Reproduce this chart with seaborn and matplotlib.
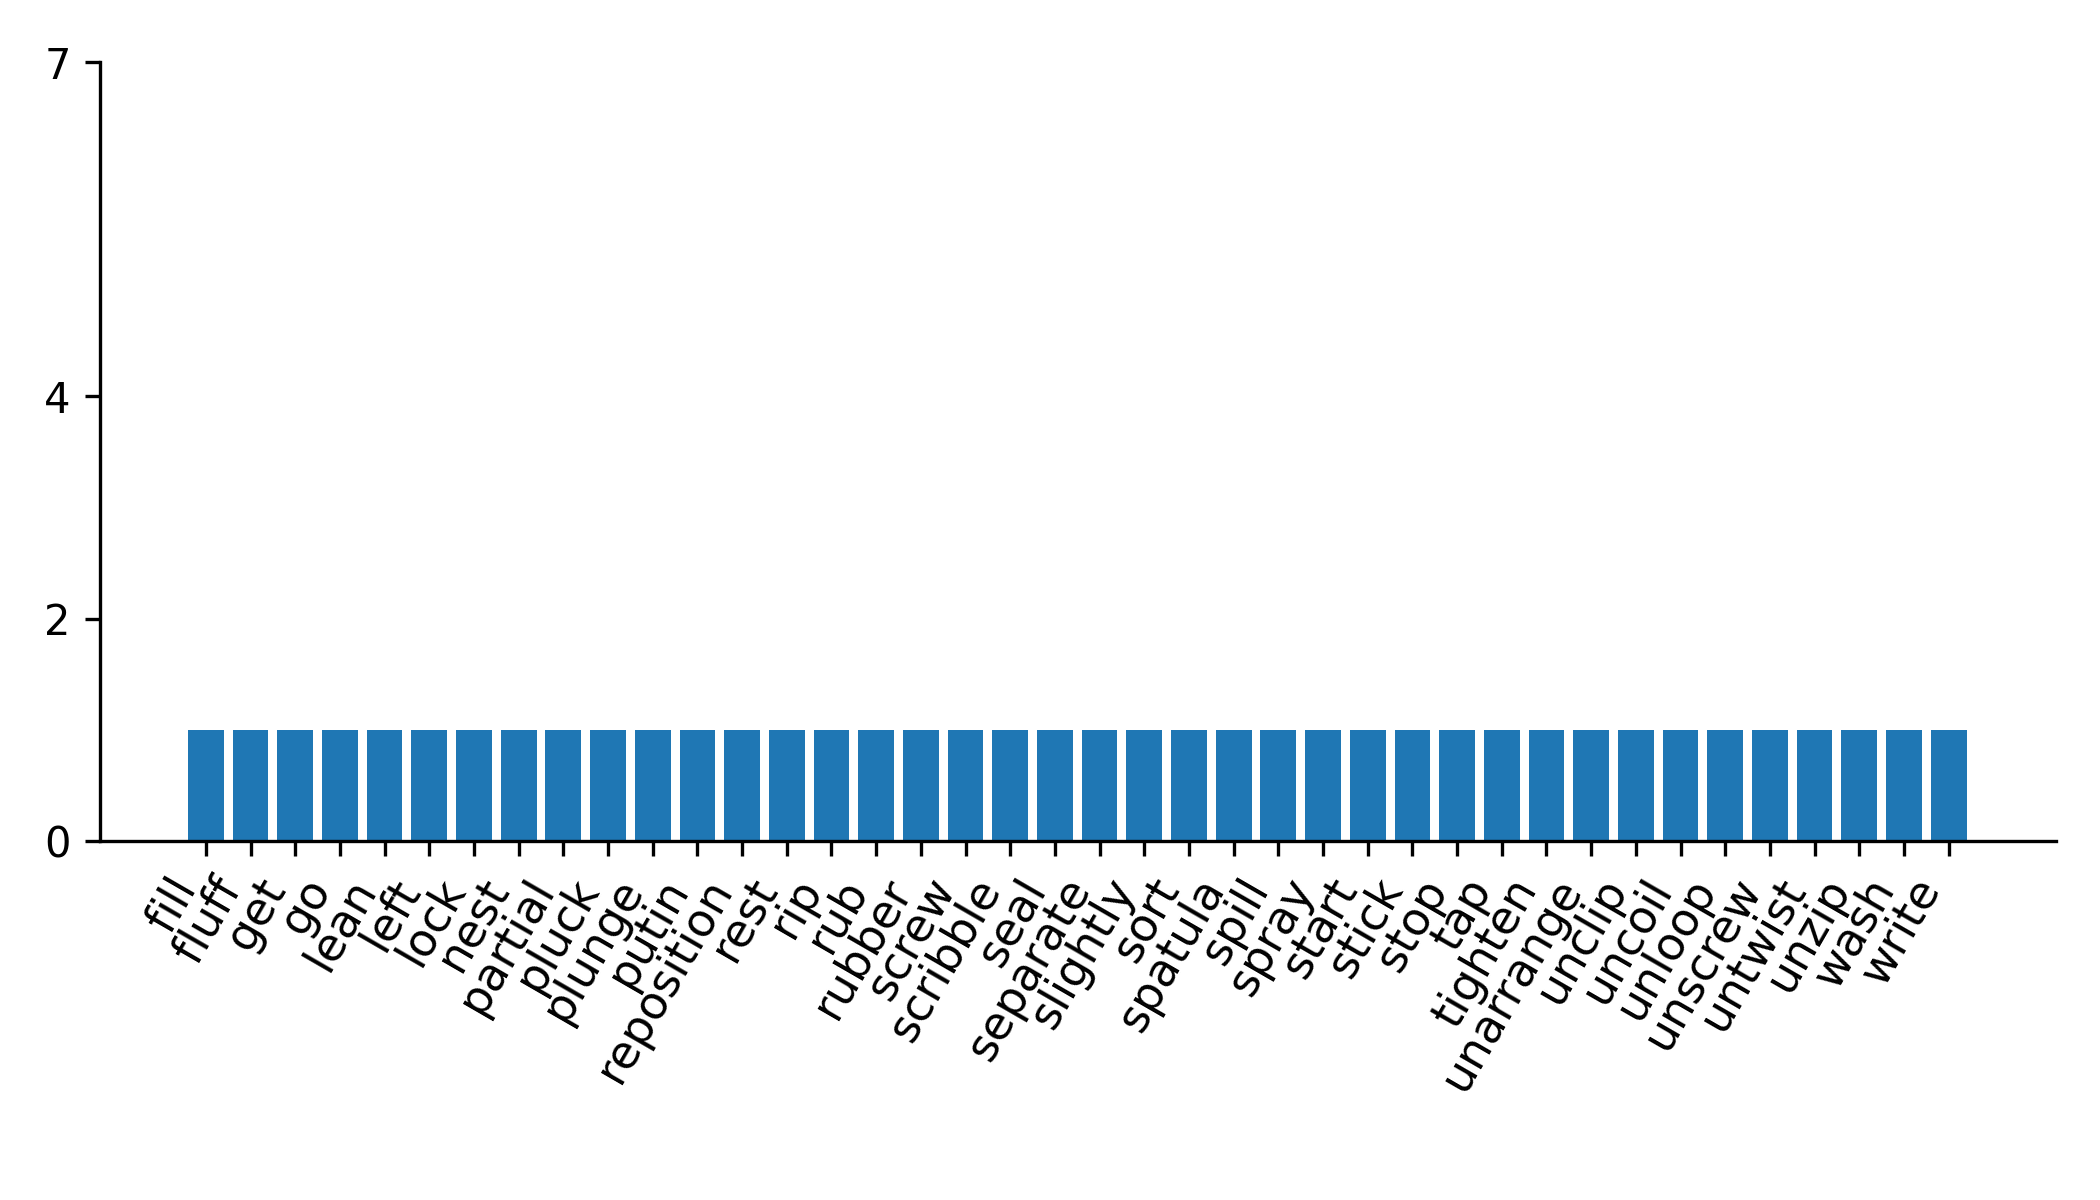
import matplotlib
matplotlib.use("Agg")
import matplotlib.pyplot as plt
import seaborn as sns

words = ["fill", "fluff", "get", "go", "lean", "left", "lock", "nest", "partial",
         "pluck", "plunge", "putin", "reposition", "rest", "rip", "rub", "rubber",
         "screw", "scribble", "seal", "separate", "slightly", "sort", "spatula",
         "spill", "spray", "start", "stick", "stop", "tap", "tighten", "unarrange",
         "unclip", "uncoil", "unloop", "unscrew", "untwist", "unzip", "wash", "write"]
counts = [1] * len(words)
yticks = [0, 2, 4, 7]

fig, ax = plt.subplots(figsize=(7, 4), dpi=300)
sns.barplot(x=words, y=counts, color="#1f77b4", saturation=1, width=0.8, ax=ax)

ax.set_yticks(yticks)
ax.set_ylim(0, 7)
ax.set_xlim(-2.37, 41.4)
ax.tick_params(axis="y", labelsize=10)
ax.tick_params(axis="x", labelsize=11)
plt.setp(ax.get_xticklabels(), rotation=60, ha="right")
sns.despine(ax=ax)

plt.subplots_adjust(left=0.0476, right=0.979, top=0.948, bottom=0.299)
plt.savefig("out.png", dpi=300)
